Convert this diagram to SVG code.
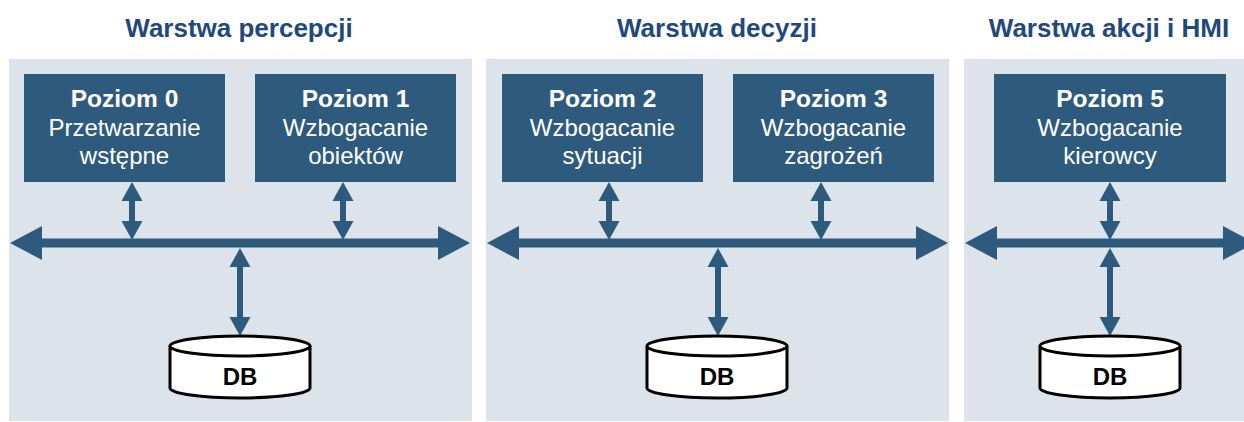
<svg xmlns="http://www.w3.org/2000/svg" width="1244" height="422" viewBox="0 0 1244 422">
  <style>
    .panel { fill: #dce3ea; }
    .title { font-family: "Liberation Sans", Arial, sans-serif; font-weight: bold; font-size: 26px; fill: #1f497d; text-anchor: middle; }
    .box { fill: #2e5b7d; }
    .lbl { font-family: "Liberation Sans", Arial, sans-serif; font-size: 24px; fill: #ffffff; text-anchor: middle; }
    .lbl .b { font-weight: bold; font-size: 24.5px; }
    .bus { stroke: #2e5b7d; stroke-width: 9; fill: none; marker-start: url(#busHead); marker-end: url(#busHead); }
    .link { stroke: #2e5b7d; stroke-width: 6; fill: none; marker-start: url(#linkHead); marker-end: url(#linkHead); }
    .db { fill: #ffffff; stroke: #000000; stroke-width: 3; }
    .dbtxt { font-family: "Liberation Sans", Arial, sans-serif; font-weight: bold; font-size: 24px; fill: #000000; text-anchor: middle; }
  </style>
  <defs>
    <marker id="busHead" markerUnits="userSpaceOnUse" viewBox="0 0 32 34" refX="0" refY="17" markerWidth="32" markerHeight="34" orient="auto-start-reverse" overflow="visible">
      <path d="M0,0 L32,17 L0,34 Z" fill="#2e5b7d"/>
    </marker>
    <marker id="linkHead" markerUnits="userSpaceOnUse" viewBox="0 0 19 21" refX="0" refY="10.5" markerWidth="19" markerHeight="21" orient="auto-start-reverse" overflow="visible">
      <path d="M0,0 L19,10.5 L0,21 Z" fill="#2e5b7d"/>
    </marker>
    <g id="cyl">
      <path class="db" d="M-70,0 L-70,42 A70,10 0 0 0 70,42 L70,0"/>
      <ellipse class="db" cx="0" cy="0" rx="70" ry="10"/>
    </g>
  </defs>

  <!-- layer backgrounds and headings -->
  <g id="layer-perception">
    <rect class="panel" x="9" y="59" width="463" height="362"/>
    <text class="title" x="239" y="37">Warstwa percepcji</text>
  </g>
  <g id="layer-decision">
    <rect class="panel" x="486" y="59" width="463" height="362"/>
    <text class="title" x="717" y="37">Warstwa decyzji</text>
  </g>
  <g id="layer-action">
    <rect class="panel" x="964" y="59" width="280" height="362"/>
    <text class="title" x="1109" y="37">Warstwa akcji i HMI</text>
  </g>

  <!-- buses and links -->
  <g id="connectors">
    <line class="bus" x1="42" y1="243" x2="438" y2="243"/>
    <line class="bus" x1="519" y1="243" x2="916" y2="243"/>
    <line class="bus" x1="997" y1="243" x2="1223" y2="243"/>

    <line class="link" x1="132" y1="201" x2="132" y2="221"/>
    <line class="link" x1="343" y1="201" x2="343" y2="221"/>
    <line class="link" x1="609" y1="201" x2="609" y2="221"/>
    <line class="link" x1="821" y1="201" x2="821" y2="221"/>
    <line class="link" x1="1110" y1="201" x2="1110" y2="221"/>

    <line class="link" x1="240" y1="267" x2="240" y2="317"/>
    <line class="link" x1="718" y1="267" x2="718" y2="317"/>
    <line class="link" x1="1110" y1="267" x2="1110" y2="317"/>
  </g>

  <!-- processing levels -->
  <g id="level0">
    <rect class="box" x="24" y="74" width="201" height="108"/>
    <text class="lbl" x="124.5"><tspan class="b" x="124.5" y="107">Poziom 0</tspan><tspan x="124.5" y="136">Przetwarzanie</tspan><tspan x="124.5" y="164">wstępne</tspan></text>
  </g>
  <g id="level1">
    <rect class="box" x="255" y="74" width="201" height="108"/>
    <text class="lbl" x="355.5"><tspan class="b" x="355.5" y="107">Poziom 1</tspan><tspan x="355.5" y="136">Wzbogacanie</tspan><tspan x="355.5" y="164">obiektów</tspan></text>
  </g>
  <g id="level2">
    <rect class="box" x="502" y="74" width="201" height="108"/>
    <text class="lbl" x="602.5"><tspan class="b" x="602.5" y="107">Poziom 2</tspan><tspan x="602.5" y="136">Wzbogacanie</tspan><tspan x="602.5" y="164">sytuacji</tspan></text>
  </g>
  <g id="level3">
    <rect class="box" x="733" y="74" width="201" height="108"/>
    <text class="lbl" x="833.5"><tspan class="b" x="833.5" y="107">Poziom 3</tspan><tspan x="833.5" y="136">Wzbogacanie</tspan><tspan x="833.5" y="164">zagrożeń</tspan></text>
  </g>
  <g id="level5">
    <rect class="box" x="994" y="74" width="232" height="108"/>
    <text class="lbl" x="1110"><tspan class="b" x="1110" y="107">Poziom 5</tspan><tspan x="1110" y="136">Wzbogacanie</tspan><tspan x="1110" y="164">kierowcy</tspan></text>
  </g>

  <!-- databases -->
  <g id="db-perception">
    <use href="#cyl" x="240" y="346"/>
    <text class="dbtxt" x="240" y="385">DB</text>
  </g>
  <g id="db-decision">
    <use href="#cyl" x="717" y="346"/>
    <text class="dbtxt" x="717" y="385">DB</text>
  </g>
  <g id="db-action">
    <use href="#cyl" x="1110" y="346"/>
    <text class="dbtxt" x="1110" y="385">DB</text>
  </g>
</svg>
